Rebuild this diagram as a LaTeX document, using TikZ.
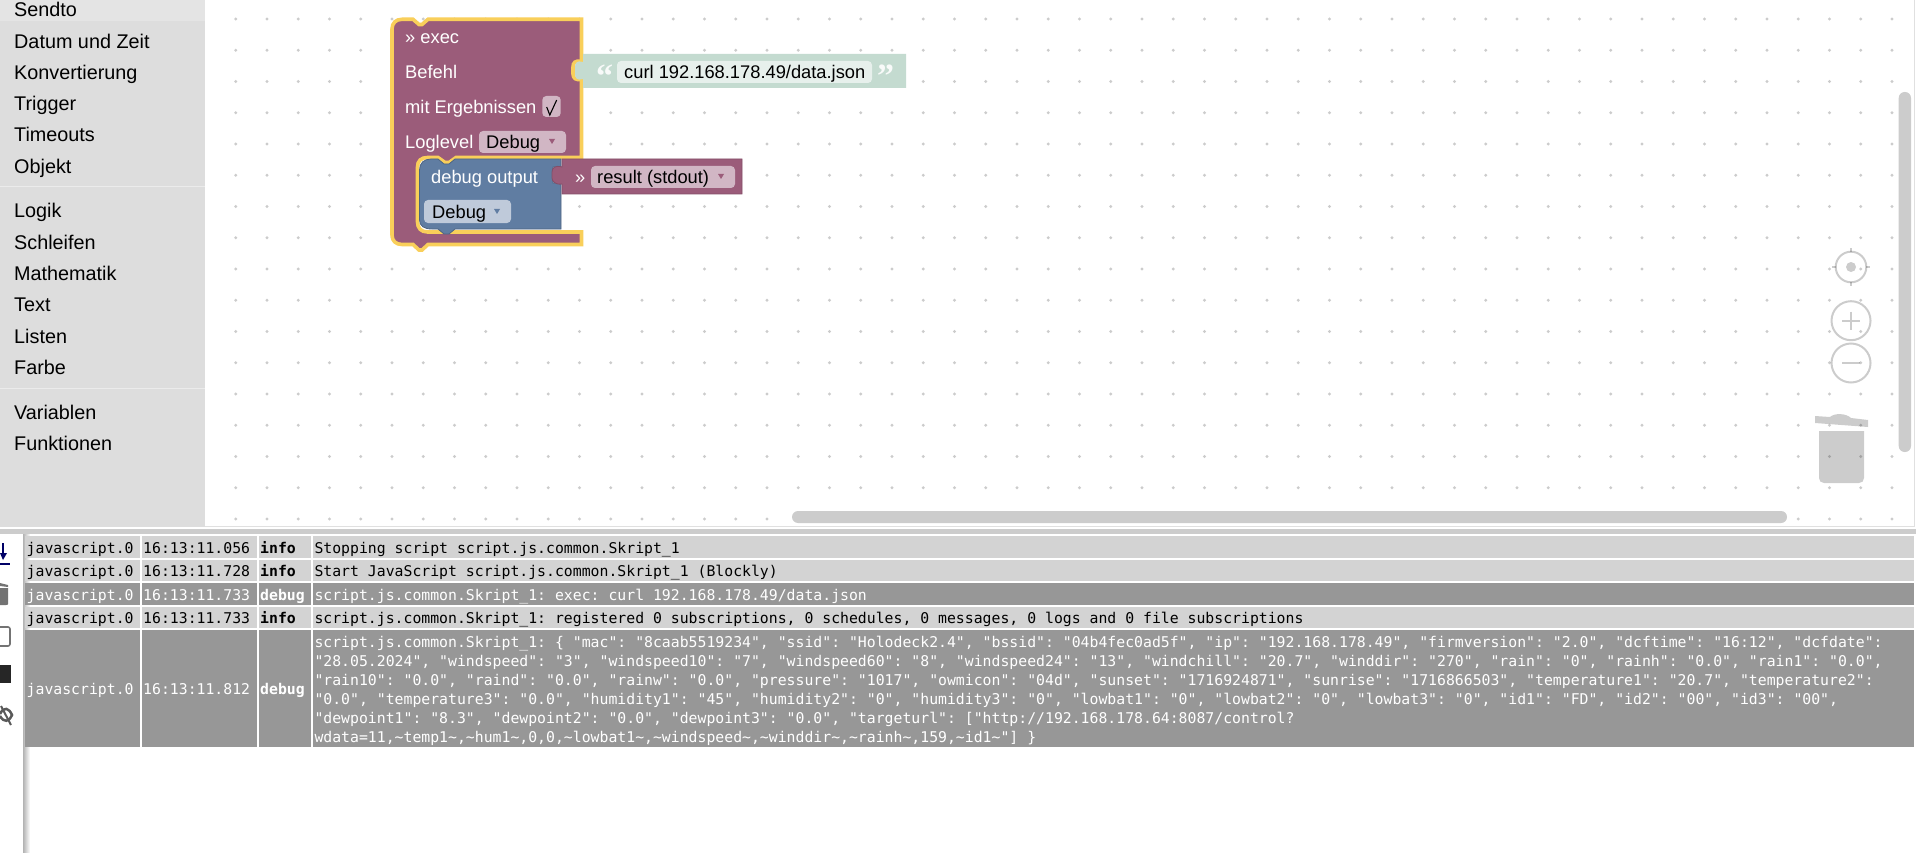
\documentclass[tikz,border=0pt]{standalone}
\usepackage{fontspec}
\setmainfont{Liberation Sans}
\newfontfamily\logfont{DejaVu Sans Mono}
\newfontfamily\quotefont{Liberation Serif}
\newcommand{\tlde}{\string~}
\frenchspacing
\definecolor{menubg}{HTML}{DDDDDD}
\definecolor{menutop}{HTML}{E4E4E4}
\definecolor{execcol}{HTML}{9B5C7A}
\definecolor{execfield}{HTML}{D1B6C4}
\definecolor{blockhl}{HTML}{F9CF5A}
\definecolor{debugcol}{HTML}{607DA2}
\definecolor{debugfield}{HTML}{BFCADA}
\definecolor{strcol}{HTML}{C4DBD0}
\definecolor{strfield}{HTML}{E7F0EC}
\definecolor{rowlight}{HTML}{D3D3D3}
\definecolor{rowdark}{HTML}{979797}
\definecolor{dotcol}{HTML}{CCCCCC}
\tikzset{
  menuitem/.style={anchor=base west,inner sep=0pt,font=\fontsize{19.8}{24}\selectfont},
  blocktext/.style={anchor=base west,inner sep=0pt,text=white,font=\fontsize{18.3}{22}\selectfont},
  fieldtext/.style={blocktext,text=black},
  quotemark/.style={anchor=base west,inner sep=0pt,text=white!70!strfield,font=\quotefont\bfseries\fontsize{34}{34}\selectfont},
  logtext/.style={anchor=base west,inner sep=0pt,font=\logfont\fontsize{14.8}{19}\selectfont},
  loglevel/.style={logtext,font=\logfont\bfseries\fontsize{14.8}{19}\selectfont},
  uitool/.style={draw=black,draw opacity=.2,line width=2pt},
}
\begin{document}
\begin{tikzpicture}[x=1pt,y=-1pt]
\useasboundingbox (0,0) rectangle (1916,853);
\fill[white] (0,0) rectangle (1916,853);
% dots of the workspace
\foreach \k in {0,...,53}
  \foreach \j in {0,...,16}
    \fill[dotcol] ({235.7+31.25*\k},{19+31.25*\j}) circle (1.6);
% menu
\fill[menubg] (0,0) rectangle (205,527);
\fill[menutop] (0,0) rectangle (205,21);
\draw[white!92!black,line width=1pt] (0,187) -- (205,187);
\draw[white!92!black,line width=1pt] (0,388.5) -- (205,388.5);
\node[menuitem] (sendto) at (14,17) {Sendto};
\node[menuitem] (datum) at (14,48.2) {Datum und Zeit};
\node[menuitem] (konv) at (14,79.5) {Konvertierung};
\node[menuitem] (trigger) at (14,110.7) {Trigger};
\node[menuitem] (timeouts) at (14,142) {Timeouts};
\node[menuitem] (objekt) at (14,173.2) {Objekt};
\node[menuitem] (logik) at (14,218) {Logik};
\node[menuitem] (schleifen) at (14,249.3) {Schleifen};
\node[menuitem] (mathe) at (14,280.5) {Mathematik};
\node[menuitem] (textitem) at (14,311.8) {Text};
\node[menuitem] (listen) at (14,343) {Listen};
\node[menuitem] (farbe) at (14,374.3) {Farbe};
\node[menuitem] (variablen) at (14,419.5) {Variablen};
\node[menuitem] (funktionen) at (14,450.8) {Funktionen};
% exec block
\draw[fill=execcol,draw=blockhl,line width=3.6pt,miter limit=4] (392,29) .. controls (392,23) and (396,19.3) .. (402,19.3) -- (413,19.3) -- (419,24.5) -- (422,24.5) -- (428,19.3) -- (581.5,19.3) -- (581.5,61.5) .. controls (575,60) and (573,63) .. (573,67) -- (573,74) .. controls (573,78) and (576,81) .. (581.5,79) -- (581.5,157.5) -- (456,157.5) -- (449,162.5) -- (445,162.5) -- (438,157.5) -- (427.5,157.5) .. controls (421,157.5) and (417.5,161) .. (417.5,167) -- (417.5,222) .. controls (417.5,228) and (421,232) .. (427.5,232) -- (581.5,232) -- (581.5,244.5) -- (428,244.5) -- (422,250) -- (419,250) -- (413,244.5) -- (402,244.5) .. controls (396,244.5) and (392,241) .. (392,235) -- cycle;
% string block
\fill[strcol] (583,54) -- (906,54) -- (906,88) -- (583,88) -- (583,79) .. controls (577,81) and (575,78) .. (575,74) -- (575,67) .. controls (575,63) and (577,60) .. (583,62) -- cycle;
\fill[strfield,rounded corners=4pt] (617,61) rectangle (872,83);
\node[quotemark] (quoteopen) at (596,88) {“};
\node[quotemark] (quoteclose) at (877,88) {”};
\node[fieldtext] (curl) at (624,78.5) {curl 192.168.178.49/data.json};
% debug block
\draw[fill=debugcol,draw=debugcol!80!black,line width=.8pt] (419.5,170) .. controls (419.5,163) and (424,159) .. (431,159) -- (438,159) -- (444,164) -- (449,164) -- (455,159) -- (561,159) -- (561,167) -- (553,167) -- (553,183) -- (561,183) -- (561,229) -- (455,229) -- (449,234) -- (444,234) -- (438,229) -- (432,229) .. controls (424,229) and (419.5,226) .. (419.5,220) -- cycle;
% result block
\draw[fill=execcol,draw=execcol!85!black,line width=.8pt] (562,159) -- (742,159) -- (742,194) -- (562,194) -- (562,184) .. controls (555,185) and (552,181) .. (552,178) -- (552,172) .. controls (552,168) and (555,165) .. (562,167) -- cycle;
% fields
\fill[execfield,rounded corners=4pt] (542.3,96) rectangle (560.7,117);
\fill[execfield,rounded corners=4pt] (479,131) rectangle (566,153);
\fill[execfield,rounded corners=4pt] (591,166) rectangle (735,188);
\fill[debugfield,rounded corners=4pt] (424,200) rectangle (511,223);
\fill[execcol] (549,139) -- (555,139) -- (552,144) -- cycle;
\fill[execcol] (718,174) -- (724,174) -- (721,179) -- cycle;
\fill[debugcol] (494,209) -- (500,209) -- (497,214) -- cycle;
\draw[black,line width=1.1pt] (546.7,107) -- (549.8,115) -- (556.7,100);
\node[blocktext] (exectitle) at (405,43.5) {» exec};
\node[blocktext] (befehl) at (405,78.5) {Befehl};
\node[blocktext] (mitergebnis) at (405,113.5) {mit Ergebnissen};
\node[blocktext] (loglevel) at (405,148.5) {Loglevel};
\node[fieldtext] (debugone) at (486,149) {Debug};
\node[blocktext] (debugtitle) at (431,183.5) {debug output};
\node[fieldtext] (debugtwo) at (432,218.5) {Debug};
\node[blocktext] (chevron) at (575,183.5) {»};
\node[fieldtext] (result) at (597,183.5) {result (stdout)};
% workspace controls
\draw[uitool] (1851,267) circle (15.3);
\fill[black,opacity=.2] (1851,267) circle (5);
\draw[uitool] (1851,248) -- (1851,252) (1851,282) -- (1851,286) (1832,267) -- (1836,267) (1866,267) -- (1870,267);
\draw[uitool] (1851,320.7) circle (19.5);
\draw[uitool] (1842,320.7) -- (1860,320.7) (1851,311.7) -- (1851,329.7);
\draw[uitool] (1851,363) circle (19.5);
\draw[uitool] (1842,363) -- (1860,363);
\fill[black,opacity=.2] (1815,416) -- (1830,417) .. controls (1834,413) and (1846,413) .. (1851,418) -- (1868,420) -- (1868,427) -- (1815,423) -- cycle;
\fill[black,opacity=.2] (1819,431) -- (1864,431) -- (1864,478) .. controls (1864,481) and (1862,483) .. (1859,483) -- (1824,483) .. controls (1821,483) and (1819,481) .. (1819,478) -- cycle;
% scrollbars
\fill[dotcol,rounded corners=6pt] (1898.7,92) rectangle (1911,452);
\fill[dotcol,rounded corners=6pt] (792,511) rectangle (1787,523);
\draw[white!88!black,line width=1pt] (205,526.5) -- (1914,526.5) -- (1914,0);
% divider and table
\fill[dotcol] (0,529) rectangle (1916,534);
\fill[left color=black!30,right color=white] (23,534) rectangle (30,853);
\foreach \r/\top/\bot/\rowfill/\rowtext/\base/\stamp/\lvl in {
  a/536/558/rowlight/black/553/16:13:11.056/info,
  b/560/581/rowlight/black/576.5/16:13:11.728/info,
  c/583/605/rowdark/white/600/16:13:11.733/debug,
  d/607/628/rowlight/black/623/16:13:11.733/info,
  e/630/747/rowdark/white/694/16:13:11.812/debug}{
  \fill[\rowfill] (24.5,\top) rectangle (140,\bot);
  \fill[\rowfill] (141.6,\top) rectangle (257,\bot);
  \fill[\rowfill] (259,\top) rectangle (311,\bot);
  \fill[\rowfill] (313,\top) rectangle (1914,\bot);
  \node[logtext,text=\rowtext] (src\r) at (26.5,\base) {javascript.0};
  \node[logtext,text=\rowtext] (time\r) at (143,\base) {\stamp};
  \node[loglevel,text=\rowtext] (lvl\r) at (260,\base) {\lvl};
}
\node[logtext] (msga) at (314.3,553) {Stopping script script.js.common.Skript\_1};
\node[logtext] (msgb) at (314.3,576.5) {Start JavaScript script.js.common.Skript\_1 (Blockly)};
\node[logtext,text=white] (msgc) at (314.3,600) {script.js.common.Skript\_1: exec: curl 192.168.178.49/data.json};
\node[logtext] (msgd) at (314.3,623) {script.js.common.Skript\_1: registered 0 subscriptions, 0 schedules, 0 messages, 0 logs and 0 file subscriptions};
\node[logtext,text=white] (msge) at (314.3,647) {script.js.common.Skript\_1: \{ "mac": "8caab5519234", "ssid": "Holodeck2.4", "bssid": "04b4fec0ad5f", "ip": "192.168.178.49", "firmversion": "2.0", "dcftime": "16:12", "dcfdate":};
\node[logtext,text=white] (msgf) at (314.3,666) {"28.05.2024", "windspeed": "3", "windspeed10": "7", "windspeed60": "8", "windspeed24": "13", "windchill": "20.7", "winddir": "270", "rain": "0", "rainh": "0.0", "rain1": "0.0",};
\node[logtext,text=white] (msgg) at (314.3,685) {"rain10": "0.0", "raind": "0.0", "rainw": "0.0", "pressure": "1017", "owmicon": "04d", "sunset": "1716924871", "sunrise": "1716866503", "temperature1": "20.7", "temperature2":};
\node[logtext,text=white] (msgh) at (314.3,704) {"0.0", "temperature3": "0.0", "humidity1": "45", "humidity2": "0", "humidity3": "0", "lowbat1": "0", "lowbat2": "0", "lowbat3": "0", "id1": "FD", "id2": "00", "id3": "00",};
\node[logtext,text=white] (msgi) at (314.3,723) {"dewpoint1": "8.3", "dewpoint2": "0.0", "dewpoint3": "0.0", "targeturl": ["http://192.168.178.64:8087/control?};
\node[logtext,text=white] (msgj) at (314.3,742) {wdata=11,\tlde temp1\tlde,\tlde hum1\tlde,0,0,\tlde lowbat1\tlde,\tlde windspeed\tlde,\tlde winddir\tlde,\tlde rainh\tlde,159,\tlde id1\tlde"] \}};
% log toolbar
\draw[blue!40!black,line width=2pt] (3,543) -- (3,558) (0,563.5) -- (10,563.5);
\fill[blue!40!black] (0,553) -- (7,553) -- (3,560) -- cycle;
\fill[black!55] (0,588) -- (8,588) -- (8,604) .. controls (8,605) and (7,605) .. (6,605) -- (0,605) -- cycle;
\fill[black!55] (0,583) -- (8,585) -- (8,587) -- (0,586) -- cycle;
\draw[black!55,line width=1.6pt,rounded corners=2pt] (0,627) -- (10,627) -- (10,646) -- (0,646);
\fill[black!85] (0,665) rectangle (11,683);
\draw[black!65,line width=2.5pt] (0,714) .. controls (4,706) and (9,708) .. (12,715) .. controls (9,722) and (4,723) .. (0,716);
\draw[black!65,line width=2pt] (1,706) -- (11,725);
\end{tikzpicture}
\end{document}
